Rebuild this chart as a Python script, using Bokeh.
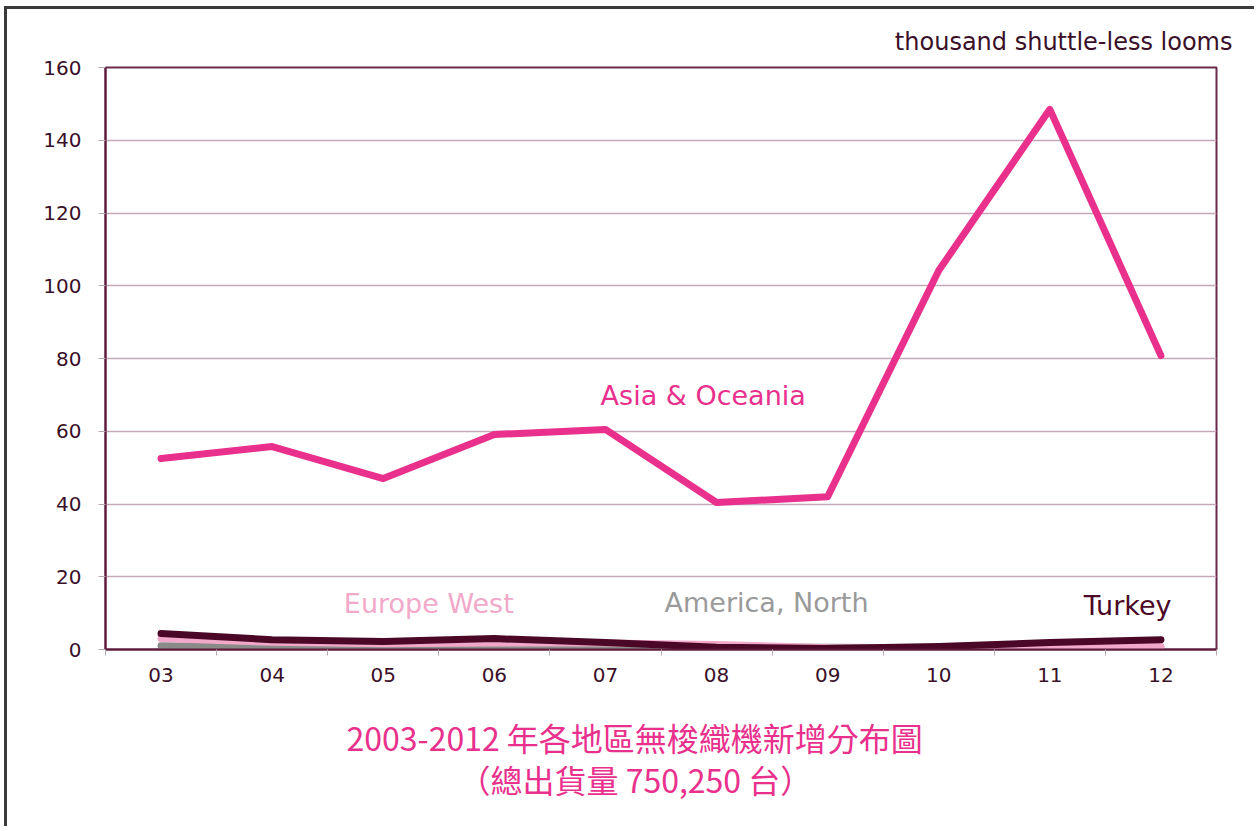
from bokeh.plotting import figure
from bokeh.models import Range1d, FixedTicker, Title, ColumnDataSource
from bokeh.core.properties import value
from bokeh.embed import file_html
from bokeh.resources import INLINE

years = ["03", "04", "05", "06", "07", "08", "09", "10", "11", "12"]
asia_oceania = [52.5, 55.8, 47.0, 59.1, 60.5, 40.4, 42.0, 104.2, 148.5, 80.8]
europe_west = [3.0, 2.0, 1.6, 1.8, 1.8, 1.4, 0.5, 0.4, 0.6, 0.8]
america_north = [1.0, 0.8, 0.8, 0.8, 0.8, 0.7, 0.6, 0.5, 0.5, 0.5]
turkey = [4.4, 2.7, 2.2, 3.0, 1.9, 0.6, 0.3, 0.8, 1.9, 2.7]
y_ticks = [0, 20, 40, 60, 80, 100, 120, 140, 160]

unit_text = "thousand shuttle-less looms"
title_line1 = "2003-2012 年各地區無梭織機新增分布圖"
title_line2 = "（總出貨量 750,250 台）"

FONT = "DejaVu Sans"
CJK_FONT = "Noto Sans CJK TC"
AXIS_COLOR = "#5c1a3a"
GRID_COLOR = "#c4a8b8"
PINK = "#e8308c"
TURKEY_COLOR = "#4a0826"
EUROPE_COLOR = "#f2a8c8"
AMERICA_COLOR = "#8a8a8a"
TICK_TEXT = "#3a1028"

# category slots: each year occupies one unit, centred at i + 0.5
n = len(years)
centers = [i + 0.5 for i in range(n)]

p = figure(
    width=1250, height=820,
    x_range=Range1d(0, n),
    y_range=Range1d(0, 160),
    output_backend="svg", toolbar_location=None,
    min_border_left=98, min_border_right=41, min_border_top=58, min_border_bottom=180,
    background_fill_color="white", border_fill_color="white",
)
p.styles = {"margin-left": "4px", "margin-top": "6px",
            "border-left": "3px solid #3a3a3a", "border-top": "3px solid #3a3a3a"}

p.xgrid.visible = False

xaxis = p.xaxis[0]
xaxis.ticker = FixedTicker(ticks=centers, minor_ticks=list(range(n + 1)))
xaxis.major_label_overrides = {c: y for c, y in zip(centers, years)}
xaxis.axis_line_color = AXIS_COLOR
xaxis.axis_line_width = 2
xaxis.major_tick_out = 0
xaxis.major_tick_in = 0
xaxis.minor_tick_out = 6
xaxis.minor_tick_in = 0
xaxis.minor_tick_line_color = "#b8a8b0"
xaxis.major_label_standoff = 12
xaxis.major_label_text_font = FONT
xaxis.major_label_text_font_size = "20px"
xaxis.major_label_text_color = TICK_TEXT

yaxis = p.yaxis[0]
yaxis.ticker = FixedTicker(ticks=y_ticks)
yaxis.axis_line_color = AXIS_COLOR
yaxis.axis_line_width = 2
yaxis.major_tick_out = 7
yaxis.major_tick_in = 0
yaxis.major_tick_line_color = "#b8a8b0"
yaxis.minor_tick_out = 0
yaxis.minor_tick_in = 0
yaxis.major_label_standoff = 17
yaxis.major_label_text_font = FONT
yaxis.major_label_text_font_size = "20px"
yaxis.major_label_text_color = TICK_TEXT

p.ygrid.ticker = FixedTicker(ticks=y_ticks)
p.ygrid.grid_line_color = GRID_COLOR
p.ygrid.grid_line_width = 1.5

p.outline_line_color = "#6a2a4a"
p.outline_line_width = 2

src = ColumnDataSource(dict(x=centers, year=years, asia=asia_oceania, europe=europe_west,
                            america=america_north, turkey=turkey))

p.line("x", "america", source=src, line_color=AMERICA_COLOR, line_width=7, line_cap="round", line_join="round")
p.line("x", "europe", source=src, line_color=EUROPE_COLOR, line_width=7, line_cap="round", line_join="round")
p.line("x", "turkey", source=src, line_color=TURKEY_COLOR, line_width=7, line_cap="round", line_join="round")
p.line("x", "asia", source=src, line_color=PINK, line_width=7, line_cap="round", line_join="round")

# series labels
series_names = ["Asia & Oceania", "Europe West", "America, North", "Turkey"]
label_x = [5.38, 2.91, 5.95, 9.2]
label_y = [69.8, 12.6, 12.9, 12.1]
label_colors = [PINK, EUROPE_COLOR, "#9a9a9a", TURKEY_COLOR]
p.text(x=label_x, y=label_y, text=series_names,
       text_color=label_colors, text_font=value(FONT), text_font_size="27px",
       text_align="center", text_baseline="middle")

# unit note above the frame, right aligned
p.add_layout(Title(text=unit_text, align="right", offset=-16, standoff=24,
                   text_font=FONT, text_font_size="24px", text_font_style="normal",
                   text_color=TICK_TEXT), "above")

# two-line Chinese caption below the axis
p.add_layout(Title(text=title_line1, align="left", offset=241, standoff=55,
                   text_font=CJK_FONT, text_font_size="32px", text_font_style="normal",
                   text_color=PINK), "below")
p.add_layout(Title(text=title_line2, align="left", offset=353, standoff=-63,
                   vertical_align="top",
                   text_font=CJK_FONT, text_font_size="32px", text_font_style="normal",
                   text_color=PINK), "below")

open("out.html", "w").write(file_html(p, INLINE))
